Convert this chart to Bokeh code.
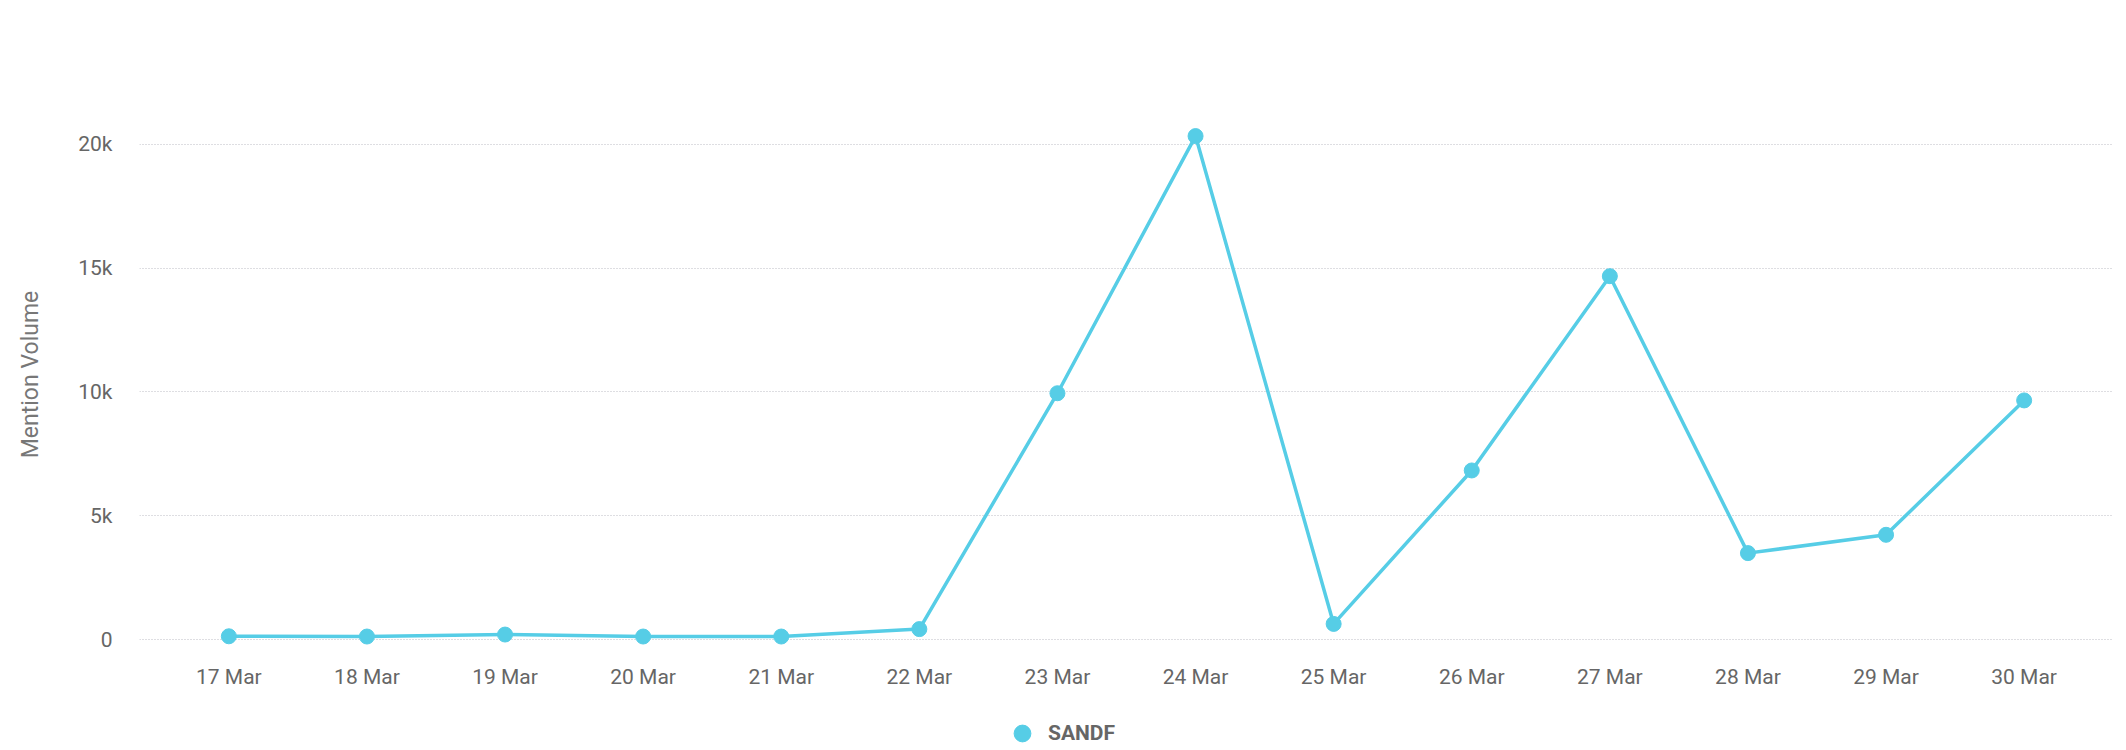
from bokeh.plotting import figure
from bokeh.models import FactorRange, Range1d, FixedTicker, Legend, LegendItem, ColumnDataSource
from bokeh.embed import file_html
from bokeh.resources import INLINE

# ---- data ----
dates = ["17 Mar", "18 Mar", "19 Mar", "20 Mar", "21 Mar", "22 Mar", "23 Mar",
         "24 Mar", "25 Mar", "26 Mar", "27 Mar", "28 Mar", "29 Mar", "30 Mar"]
mentions = [130, 120, 200, 120, 120, 420, 9950, 20340, 630, 6830, 14680, 3490, 4230, 9660]
y_ticks = [0, 5000, 10000, 15000, 20000]
y_tick_labels = ["0", "5k", "10k", "15k", "20k"]
series_name = "SANDF"

COLOR = "#56CDE6"
FONT = "Roboto"

source = ColumnDataSource(data=dict(date=dates, mentions=mentions))

p = figure(
    width=2120, height=748,
    x_range=FactorRange(factors=dates, range_padding=0.147, range_padding_units="absolute"),
    y_range=Range1d(-4404, 25818),
    output_backend="svg", toolbar_location=None,
    min_border_left=139, min_border_right=7, min_border_top=0, min_border_bottom=0,
)
p.outline_line_color = None
p.background_fill_color = "white"
p.border_fill_color = "white"

p.line("date", "mentions", source=source, line_color=COLOR, line_width=3.5)
sc = p.scatter("date", "mentions", source=source, size=15, fill_color=COLOR, line_color=COLOR)

# y axis
p.yaxis.ticker = FixedTicker(ticks=y_ticks)
p.yaxis.major_label_overrides = {t: l for t, l in zip(y_ticks, y_tick_labels)}
p.yaxis.axis_line_color = None
p.yaxis.major_tick_line_color = None
p.yaxis.minor_tick_line_color = None
p.yaxis.major_tick_out = 0
p.yaxis.major_tick_in = 0
p.yaxis.major_label_standoff = 27
p.yaxis.major_label_text_font = FONT
p.yaxis.major_label_text_font_size = "21px"
p.yaxis.major_label_text_color = "#666666"
p.yaxis.axis_label = "Mention Volume"
p.yaxis.axis_label_text_font = FONT
p.yaxis.axis_label_text_font_size = "23px"
p.yaxis.axis_label_text_font_style = "normal"
p.yaxis.axis_label_text_color = "#777777"
p.yaxis.axis_label_standoff = 31

# x axis, pinned just below the zero line
p.xaxis.fixed_location = -687
p.xaxis.axis_line_color = None
p.xaxis.major_tick_line_color = None
p.xaxis.minor_tick_line_color = None
p.xaxis.major_tick_out = 0
p.xaxis.major_tick_in = 0
p.xaxis.major_label_standoff = 8
p.xaxis.major_label_text_font = FONT
p.xaxis.major_label_text_font_size = "21px"
p.xaxis.major_label_text_color = "#666666"

# grid
p.xgrid.grid_line_color = None
p.ygrid.ticker = FixedTicker(ticks=y_ticks)
p.ygrid.grid_line_color = "#bdbdc4"
p.ygrid.grid_line_width = 1
p.ygrid.grid_line_dash = "1 2"

legend = Legend(
    items=[LegendItem(label=series_name, renderers=[sc])],
    location=(862, -6),
    margin=0, padding=0, spacing=0,
    glyph_width=42, glyph_height=42, label_standoff=5,
    border_line_color=None, background_fill_alpha=0,
    label_text_font=FONT, label_text_font_size="21px", label_text_font_style="bold",
    label_text_color="#666666",
)
p.add_layout(legend)

open("out.html", "w").write(file_html(p, INLINE))
